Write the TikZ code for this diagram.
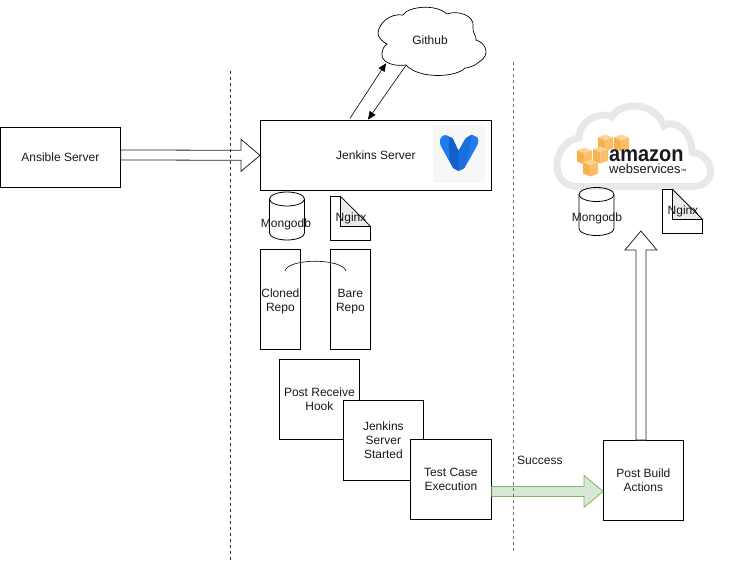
\documentclass[tikz,border=0pt]{standalone}
\usepackage{fontspec}
\setmainfont{Liberation Sans}
\usetikzlibrary{arrows.meta,calc,shapes.geometric}
\definecolor{vblue}{HTML}{1F7CEB}
\definecolor{vdark}{HTML}{1560C8}
\definecolor{vmid}{HTML}{1B6FDC}
\definecolor{awsgrey}{HTML}{E7E8E9}
\definecolor{cubel}{HTML}{F8B24A}
\definecolor{cubem}{HTML}{F9BE68}
\definecolor{cubet}{HTML}{FBD394}
\definecolor{greenf}{HTML}{D5E8D4}
\definecolor{greend}{HTML}{82B366}
\newcommand{\blockarrow}[3][]{%
  \draw[blockline,#1]
    ($#2!5pt!90:#3$) -- ($#3!19pt!#2!5pt!-90:#2$) -- ($#3!19pt!#2!16pt!-90:#2$) -- #3
    -- ($#3!19pt!#2!16pt!90:#2$) -- ($#3!19pt!#2!5pt!90:#2$) -- ($#2!5pt!-90:#3$) -- cycle;}
\tikzset{
  x=1pt,y=-1pt,
  every node/.style={font=\fontsize{12}{14.2}\selectfont,align=center,text=black!90},
  boxn/.style={draw,line width=.8pt,inner sep=0pt,anchor=north west},
  blockline/.style={draw=black!85,fill=white,line width=.8pt,line join=miter},
  sepl/.style={line width=.7pt,dash pattern=on 3pt off 3pt,black!85},
  sepr/.style={line width=1pt,dash pattern=on 3pt off 3pt,black!55},
  thin arrow/.style={line width=.6pt,-{Triangle[length=8pt,width=7pt]}},
  cube/.pic={
    \fill[cubet] (0,0)--(7.5,-2.8)--(15,0)--(7.5,2.8)--cycle;
    \fill[cubel] (0,0)--(7.5,2.8)--(7.5,14)--(0,11)--cycle;
    \fill[cubem] (15,0)--(7.5,2.8)--(7.5,14)--(15,11)--cycle;
  },
  cyl/.pic={
    \draw[line width=.8pt] (0,7)--(0,41) arc[start angle=180,end angle=0,x radius=17.5,y radius=7] --(35,7);
    \draw[line width=.8pt] (17.5,7) ellipse[x radius=17.5,y radius=7];
  }
}
\begin{document}
\begin{tikzpicture}
\useasboundingbox (0,0) rectangle (730,562);

% nodes
\node[boxn,minimum width=120pt,minimum height=60pt] (ansible) at (0,127) {Ansible Server};
\node[boxn,minimum width=231pt,minimum height=70pt] (jenkins) at (260,120) {Jenkins Server};
\node[boxn,minimum width=40pt,minimum height=100pt] (cloned) at (260,249) {\rule{0pt}{12pt}Cloned\\Repo};
\node[boxn,minimum width=40pt,minimum height=100pt] (bare) at (330,249) {\rule{0pt}{12pt}Bare\\Repo};
\node[boxn,minimum width=80pt,minimum height=80pt] (hook) at (279,359) {Post Receive\\Hook};
\node[boxn,minimum width=80pt,minimum height=80pt,fill=white] (started) at (343,400) {Jenkins\\Server\\Started};
\node[boxn,minimum width=81pt,minimum height=80pt,fill=white] (test) at (410,439) {Test Case\\Execution};
\node[boxn,minimum width=80pt,minimum height=80pt] (post) at (603,440) {Post Build\\Actions};

% vagrant logo
\fill[black!3] (433,125) rectangle (485,183);
\fill[vblue,rounded corners=1.5pt] (440,138.5) -- (444.5,134.5) -- (452.5,138) -- (458.5,151) -- (465.5,138.5) -- (471.5,134.5) -- (478.5,138) -- (478,144) -- (464.5,168) -- (458.5,171) -- (453,168) -- (440,144.5) -- cycle;
\fill[vdark] (449,137) -- (452.5,138) -- (458.5,151) -- (458.5,171) -- (453,168) -- (449.5,160) -- (449,143) -- cycle;
\fill[vmid] (465.5,138.5) -- (471.5,134.5) -- (470,146) -- (464.5,168) -- (458.5,171) -- (458.5,151) -- cycle;

% github cloud
\draw[line width=.7pt,fill=white] (378,33)
  .. controls (379,23) and (390,13) .. (403,15)
  .. controls (407,7) and (435,3) .. (447,14)
  .. controls (457,10) and (475,15) .. (473,27)
  .. controls (472,33) and (477,36) .. (476,40)
  .. controls (486,43) and (491,55) .. (479,62)
  .. controls (475,66) and (468,68) .. (465,68)
  .. controls (457,77) and (420,80) .. (406,65)
  .. controls (398,66) and (390,65) .. (385,61)
  .. controls (380,58) and (381,48) .. (387,44)
  .. controls (383,42) and (378,38) .. (378,33) -- cycle;
\node (github) at (430,40) {Github};
\coordinate (ghin) at (386,63.3);
\coordinate (ghout) at (405.7,65.7);
\coordinate (jkout) at (350,118.3);
\coordinate (jkin) at (368,119.5);
\draw[thin arrow] (jkout) -- (ghin);
\draw[thin arrow] (ghout) -- (jkin);

% cylinders and notes, left
\pic at (269.5,192) {cyl};
\node (mongo1) at (286,224) {Mongodb};
\draw[line width=.8pt] (330.5,196.5) -- (340.5,196.5) -- (370.5,226.5) -- (370.5,240.5) -- (330.5,240.5) -- cycle;
\draw[line width=.7pt,fill=black!8] (340.5,196.5) -- (370.5,226.5) -- (340.5,226.5) -- cycle;
\node (nginx1) at (351,218.5) {Nginx};

% arc
\draw[line width=.6pt] (285,271) .. controls (288,258) and (342,258) .. (346,271);

% aws
\draw[awsgrey,line width=7pt,fill=white] (577,186.5)
  .. controls (548,186) and (552,142) .. (579,138)
  .. controls (579,119) and (603,111) .. (612,117)
  .. controls (618,102) and (655,100) .. (664,126)
  .. controls (672,119) and (692,129) .. (692,152)
  .. controls (715,155) and (718,186) .. (693,186.5) -- cycle;
\pic at (598,137.5) {cube};
\pic at (614,137.5) {cube};
\pic at (577,150.5) {cube};
\pic at (593,149.5) {cube};
\pic at (583,162.5) {cube};
\node[inner sep=0pt,anchor=base west,align=left] (amazon) at (609,173.3) {\vbox{\offinterlineskip\hbox{\scalebox{1}[1.1]{\fontsize{20}{20}\selectfont\bfseries amazon}}\kern2pt\hbox{\fontsize{13}{13}\selectfont webservices{\fontsize{6}{6}\selectfont™}}}};

\pic at (579,187.5) {cyl};
\node (mongo2) at (597,218.5) {Mongodb};
\draw[line width=.8pt] (662.5,189.5) -- (672.5,189.5) -- (702.5,219.5) -- (702.5,233.5) -- (662.5,233.5) -- cycle;
\draw[line width=.7pt,fill=black!8] (672.5,189.5) -- (702.5,219.5) -- (672.5,219.5) -- cycle;
\node (nginx2) at (683,211.5) {Nginx};

% block arrows
\coordinate (a1) at ($(ansible.east)+(0,-2.5)$);
\coordinate (a2) at (jenkins.west);
\blockarrow{(a1)}{(a2)}
\coordinate (b1) at ($(test.east)+(0,12)$);
\coordinate (b2) at ($(post.west)+(0,11)$);
\blockarrow[draw=greend,fill=greenf]{(b1)}{(b2)}
\coordinate (c1) at ($(post.north)+(-2.5,0)$);
\coordinate (c2) at ($(post.north)+(-2.5,-209)$);
\blockarrow{(c1)}{(c2)}
\node[anchor=west,inner sep=0pt] (success) at (517,460) {Success};

% separators
\draw[sepl] (230,71) -- (230,561);
\draw[sepr] (513,62) -- (513,552);
\end{tikzpicture}
\end{document}
